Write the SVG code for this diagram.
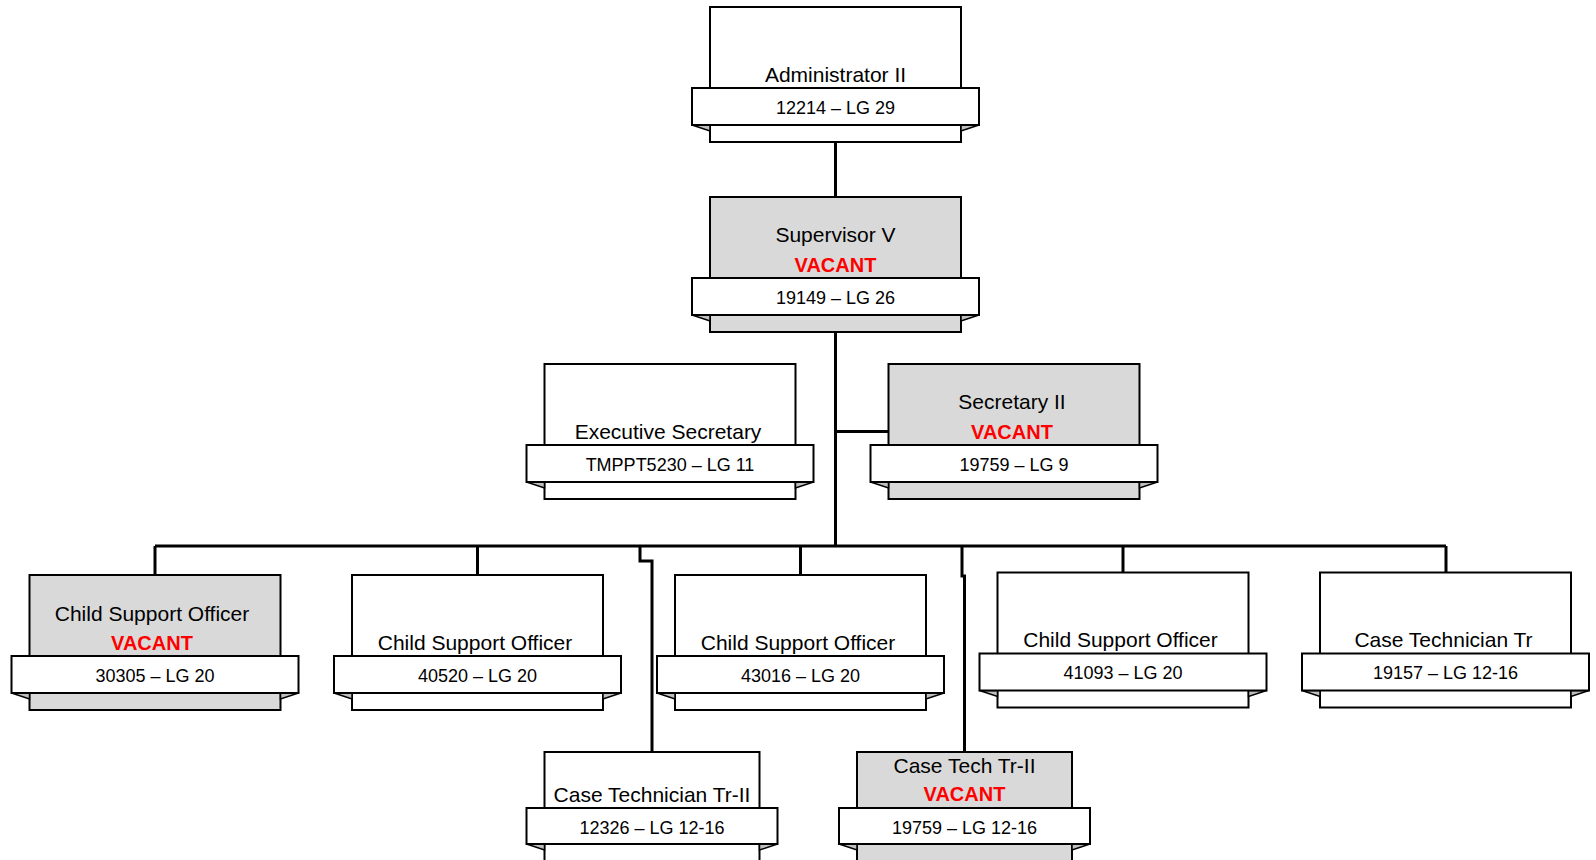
<svg xmlns="http://www.w3.org/2000/svg" width="1596" height="860" viewBox="0 0 1596 860">
<style>
.main{fill:#ffffff;stroke:#000;stroke-width:2}
.vac .main{fill:#d9d9d9}
.band{fill:#ffffff;stroke:#000;stroke-width:2}
.fold{fill:#bfbfbf;stroke:#000;stroke-width:1.5;stroke-linejoin:miter}
.t{font-family:"Liberation Sans",Arial,sans-serif;font-size:21px;fill:#000;text-anchor:middle}
.b{font-family:"Liberation Sans",Arial,sans-serif;font-size:18px;fill:#000;text-anchor:middle}
.v{font-family:"Liberation Sans",Arial,sans-serif;font-size:20px;font-weight:bold;fill:#ff0000;text-anchor:middle}
.c{fill:none;stroke:#000;stroke-width:3}
</style>
<rect x="0" y="0" width="1596" height="860" fill="#ffffff"/>
<g id="connectors">
<path class="c" d="M835.5,142 V197"/>
<path class="c" d="M835.5,332 V546"/>
<path class="c" d="M835.5,431.5 H888.5"/>
<path class="c" d="M155,546 H1446"/>
<path class="c" d="M155,546 V575"/>
<path class="c" d="M477.5,546 V575"/>
<path class="c" d="M800.5,546 V575"/>
<path class="c" d="M1123,546 V572.5"/>
<path class="c" d="M1446,546 V572.5"/>
<path class="c" d="M640,546 V561 H652 V752"/>
<path class="c" d="M962,546 V576 H964.5 V752"/>
</g>

<g id="n-admin">
<rect class="main" x="710" y="7" width="251" height="135"/>
<polygon class="fold" points="692,125 710,125 710,131"/>
<polygon class="fold" points="979,125 961,125 961,131"/>
<rect class="band" x="692" y="88" width="287" height="37"/>
<text class="t" x="835.5" y="81.5">Administrator II</text>
<text class="b" x="835.5" y="113.5">12214 – LG 29</text>
</g>

<g id="n-supervisor" class="vac">
<rect class="main" x="710" y="197" width="251" height="135"/>
<polygon class="fold" points="692,315 710,315 710,321"/>
<polygon class="fold" points="979,315 961,315 961,321"/>
<rect class="band" x="692" y="278" width="287" height="37"/>
<text class="t" x="835.5" y="242">Supervisor V</text>
<text class="v" x="835.5" y="272">VACANT</text>
<text class="b" x="835.5" y="303.5">19149 – LG 26</text>
</g>

<g id="n-execsec">
<rect class="main" x="544.5" y="364" width="251" height="135"/>
<polygon class="fold" points="526.5,482 544.5,482 544.5,488"/>
<polygon class="fold" points="813.5,482 795.5,482 795.5,488"/>
<rect class="band" x="526.5" y="445" width="287" height="37"/>
<text class="t" x="668" y="438.5">Executive Secretary</text>
<text class="b" x="670" y="470.5">TMPPT5230 – LG 11</text>
</g>

<g id="n-secretary2" class="vac">
<rect class="main" x="888.5" y="364" width="251" height="135"/>
<polygon class="fold" points="870.5,482 888.5,482 888.5,488"/>
<polygon class="fold" points="1157.5,482 1139.5,482 1139.5,488"/>
<rect class="band" x="870.5" y="445" width="287" height="37"/>
<text class="t" x="1012" y="409">Secretary II</text>
<text class="v" x="1012" y="439">VACANT</text>
<text class="b" x="1014" y="470.5">19759 – LG 9</text>
</g>

<g id="n-cso1" class="vac">
<rect class="main" x="29.5" y="575" width="251" height="135"/>
<polygon class="fold" points="11.5,693 29.5,693 29.5,699"/>
<polygon class="fold" points="298.5,693 280.5,693 280.5,699"/>
<rect class="band" x="11.5" y="656" width="287" height="37"/>
<text class="t" x="152" y="621">Child Support Officer</text>
<text class="v" x="152" y="650">VACANT</text>
<text class="b" x="155" y="681.5">30305 – LG 20</text>
</g>

<g id="n-cso2">
<rect class="main" x="352" y="575" width="251" height="135"/>
<polygon class="fold" points="334,693 352,693 352,699"/>
<polygon class="fold" points="621,693 603,693 603,699"/>
<rect class="band" x="334" y="656" width="287" height="37"/>
<text class="t" x="475" y="649.5">Child Support Officer</text>
<text class="b" x="477.5" y="681.5">40520 – LG 20</text>
</g>

<g id="n-cso3">
<rect class="main" x="675" y="575" width="251" height="135"/>
<polygon class="fold" points="657,693 675,693 675,699"/>
<polygon class="fold" points="944,693 926,693 926,699"/>
<rect class="band" x="657" y="656" width="287" height="37"/>
<text class="t" x="798" y="649.5">Child Support Officer</text>
<text class="b" x="800.5" y="681.5">43016 – LG 20</text>
</g>

<g id="n-cso4">
<rect class="main" x="997.5" y="572.5" width="251" height="135"/>
<polygon class="fold" points="979.5,690.5 997.5,690.5 997.5,696.5"/>
<polygon class="fold" points="1266.5,690.5 1248.5,690.5 1248.5,696.5"/>
<rect class="band" x="979.5" y="653.5" width="287" height="37"/>
<text class="t" x="1120.5" y="647">Child Support Officer</text>
<text class="b" x="1123" y="679">41093 – LG 20</text>
</g>

<g id="n-casetech">
<rect class="main" x="1320" y="572.5" width="251" height="135"/>
<polygon class="fold" points="1302,690.5 1320,690.5 1320,696.5"/>
<polygon class="fold" points="1589,690.5 1571,690.5 1571,696.5"/>
<rect class="band" x="1302" y="653.5" width="287" height="37"/>
<text class="t" x="1443.5" y="647">Case Technician Tr</text>
<text class="b" x="1445.5" y="679">19157 – LG 12-16</text>
</g>

<g id="n-casetech2">
<rect class="main" x="544.5" y="752" width="215" height="120"/>
<polygon class="fold" points="526.5,844 544.5,844 544.5,850"/>
<polygon class="fold" points="777.5,844 759.5,844 759.5,850"/>
<rect class="band" x="526.5" y="808" width="251" height="36"/>
<text class="t" x="652" y="802">Case Technician Tr-II</text>
<text class="b" x="652" y="833.5">12326 – LG 12-16</text>
</g>

<g id="n-casetech2-vac" class="vac">
<rect class="main" x="857" y="752" width="215" height="120"/>
<polygon class="fold" points="839,844 857,844 857,850"/>
<polygon class="fold" points="1090,844 1072,844 1072,850"/>
<rect class="band" x="839" y="808" width="251" height="36"/>
<text class="t" x="964.5" y="772.5">Case Tech Tr-II</text>
<text class="v" x="964.5" y="801">VACANT</text>
<text class="b" x="964.5" y="833.5">19759 – LG 12-16</text>
</g>
</svg>
